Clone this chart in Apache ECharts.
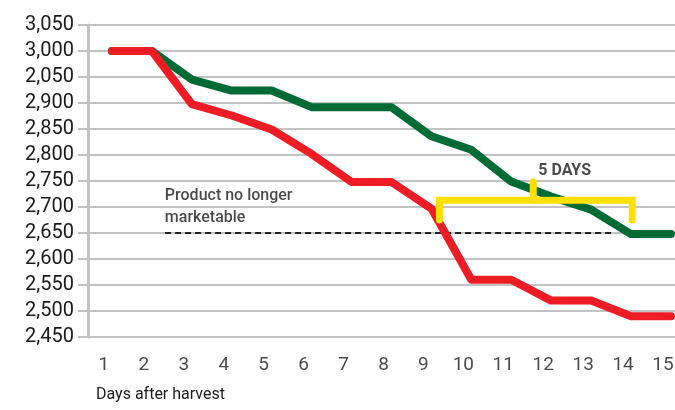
<!DOCTYPE html>
<html><head><meta charset="utf-8">
<script src="https://cdn.jsdelivr.net/npm/echarts@6/dist/echarts.min.js"></script>
<style>html,body{margin:0;padding:0;background:#fff}#c{width:675px;height:410px}</style>
</head><body><div id="c"></div>
<script>
var days = [1,2,3,4,5,6,7,8,9,10,11,12,13,14,15];
var greenValues = [3000,3000,2945,2924,2924,2892,2892,2892,2836,2810,2749,2720,2695,2648,2648];
var redValues = [3000,3000,2898,2876,2849,2802,2748,2748,2697,2560,2560,2520,2520,2490,2490];
var yTickLabels = ['2,450','2,500','2,550','2,600','2,650','2,700','2,750','2,800','2,850','2,900','2,050','3,000','3,050'];
var thresholdValue = 2650;
var thresholdRange = [2.33, 13.5];
var bracketRange = [9.2, 14.03];
var bracketLevels = [2675, 2713, 2748];
var bracketMid = 11.55;

var font = 'Roboto';
var chart = echarts.init(document.getElementById('c'), null, {renderer:'canvas'});
chart.setOption({
  animation:false,
  textStyle:{fontFamily:font},
  grid:{left:88, right:0, top:25, bottom:73},
  xAxis:{type:'value', min:0.4, max:15.1, interval:1,
    axisLine:{show:false}, axisTick:{show:false}, splitLine:{show:false},
    axisLabel:{show:false}
  },
  yAxis:{type:'value', min:2450, max:3050, interval:50,
    axisLine:{show:true, lineStyle:{color:'#c3c3c3', width:3}},
    axisTick:{show:true, inside:false, length:10, lineStyle:{color:'#c3c3c3', width:2}},
    splitLine:{show:true, lineStyle:{color:'#c3c3c3', width:2}},
    axisLabel:{color:'#1a1a1a', fontSize:20, fontFamily:font, margin:14,
      formatter:function(v){ return yTickLabels[Math.round((v-2450)/50)]; }}
  },
  series:[
    {type:'scatter', symbolSize:0, silent:true,
      data:days.map(function(d){return [d,2450];}),
      label:{show:true, position:'bottom', offset:[-8,14], formatter:function(p){return String(p.value[0]);},
        color:'#1a1a1a', fontSize:19, fontFamily:font}
    },
    {type:'line', data:[[thresholdRange[0],thresholdValue],[thresholdRange[1],thresholdValue]], symbol:'none', silent:true,
      lineStyle:{color:'#222', width:2, type:[6,4]}, z:3},
    {type:'line', data:days.map(function(d,i){return [d,greenValues[i]];}), symbol:'none', silent:true,
      lineStyle:{color:'#006b35', width:8, cap:'round', join:'round'}, z:4},
    {type:'line', data:days.map(function(d,i){return [d,redValues[i]];}), symbol:'none', silent:true,
      lineStyle:{color:'#ee1c25', width:8, cap:'round', join:'round'}, z:5},
    {type:'line', data:[[bracketRange[0],bracketLevels[0]],[bracketRange[0],bracketLevels[1]],[bracketRange[1],bracketLevels[1]],[bracketRange[1],bracketLevels[0]]],
      symbol:'none', silent:true, lineStyle:{color:'#ffe000', width:7, cap:'round', join:'miter'}, z:6},
    {type:'line', data:[[bracketMid,bracketLevels[1]],[bracketMid,bracketLevels[2]]],
      symbol:'none', silent:true, lineStyle:{color:'#ffe000', width:7, cap:'round'}, z:6},
    {type:'scatter', symbolSize:0, silent:true, z:7,
      data:[
        {value:[2.3,2722], name:'Product no longer'},
        {value:[2.3,2678], name:'marketable'},
        {value:[11.65,2770], name:'5 DAYS', label:{fontWeight:'bold'}}
      ],
      label:{show:true, position:'right', offset:[-4,0], fontSize:16, fontWeight:500, color:'#1a1a1a', fontFamily:font,
        formatter:function(p){return p.name;}}
    }
  ],
  graphic:[
    {type:'text', left:96, top:387, style:{text:'Days after harvest', fontSize:16, fill:'#1a1a1a', fontFamily:font}}
  ]
});
</script></body></html>
